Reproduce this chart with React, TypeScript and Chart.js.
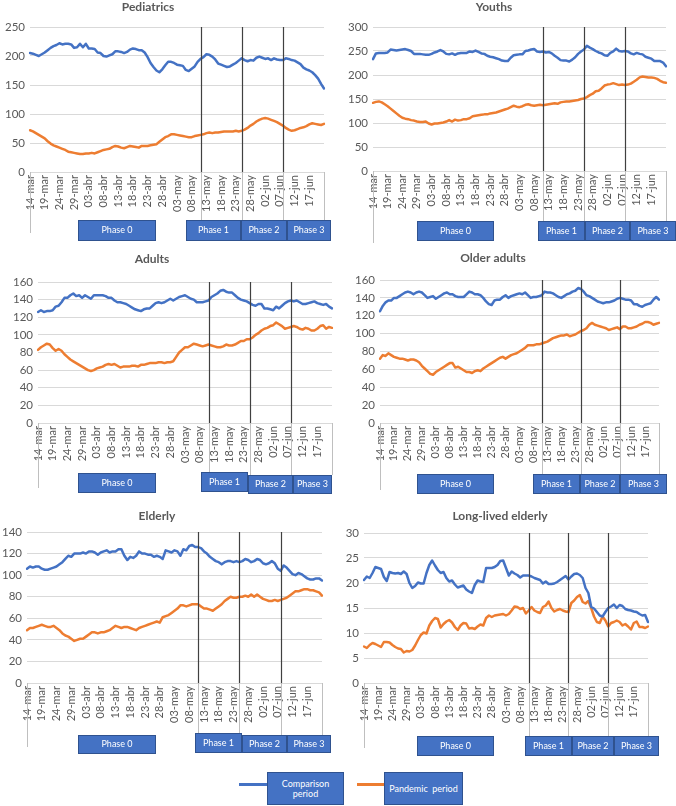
import React, { useEffect, useRef } from 'react';
import { Chart, registerables } from 'chart.js';
Chart.register(...registerables);

const FONT = 'Lato';
Chart.defaults.font.family = FONT;

// ---- categories (daily, 14-mar .. 22-jun) ----
const MONTH_SPANS: [string, number, number][] = [['mar', 14, 31], ['abr', 1, 30], ['may', 1, 31], ['jun', 1, 22]];
const DAYS: string[] = [];
for (const [m, a, b] of MONTH_SPANS) for (let d = a; d <= b; d++) DAYS.push(String(d).padStart(2, '0') + '-' + m);

const TICK_LABELS = ['14-mar', '19-mar', '24-mar', '29-mar', '03-abr', '08-abr', '13-abr', '18-abr', '23-abr', '28-abr',
  '03-may', '08-may', '13-may', '18-may', '23-may', '28-may', '02-jun', '07-jun', '12-jun', '17-jun'];
const PHASE_START = ['11-may', '25-may', '08-jun'];
const PHASE_NAMES = ['Phase 0', 'Phase 1', 'Phase 2', 'Phase 3'];
const SERIES_NAMES = ['Comparison period', 'Pandemic period'];

// ---- series ----
const PED_COMP = [205, 204, 202, 200, 203, 206, 210, 214, 217, 219,
  222, 220, 221, 221, 220, 214, 215, 221, 215, 221,
  213, 213, 212, 206, 205, 200, 199, 201, 203, 208,
  208, 207, 205, 207, 211, 213, 212, 210, 210, 206,
  198, 188, 181, 175, 172, 177, 184, 190, 190, 188,
  185, 184, 183, 176, 174, 178, 182, 190, 195, 198,
  203, 202, 199, 194, 187, 185, 183, 181, 182, 185,
  188, 192, 196, 193, 191, 193, 192, 197, 199, 197,
  195, 196, 193, 196, 194, 193, 193, 196, 195, 193,
  192, 189, 186, 180, 177, 175, 172, 167, 161, 152,
  144];
const PED_PAND = [72, 70, 67, 64, 61, 58, 53, 49, 46, 44,
  42, 40, 38, 35, 34, 33, 32, 31, 31, 32,
  32, 33, 32, 34, 36, 38, 39, 40, 43, 45,
  44, 42, 41, 43, 45, 44, 43, 42, 45, 45,
  45, 46, 47, 48, 52, 56, 60, 62, 65, 65,
  64, 63, 62, 61, 60, 60, 62, 63, 64, 65,
  67, 68, 67, 68, 68, 69, 70, 70, 70, 70,
  71, 70, 71, 73, 76, 80, 83, 87, 90, 92,
  93, 92, 90, 88, 86, 83, 80, 76, 73, 71,
  72, 74, 76, 77, 79, 82, 84, 83, 82, 81,
  83];
const YOUTH_COMP = [233, 245, 246, 246, 246, 247, 253, 252, 251, 252,
  253, 254, 252, 250, 244, 244, 244, 243, 242, 242,
  244, 247, 249, 252, 249, 244, 243, 245, 242, 245,
  246, 246, 246, 249, 248, 251, 248, 245, 244, 240,
  238, 237, 235, 233, 230, 229, 229, 236, 241, 242,
  243, 243, 250, 251, 253, 254, 249, 248, 249, 247,
  248, 245, 240, 236, 231, 230, 230, 228, 232, 237,
  244, 249, 253, 261, 257, 254, 250, 247, 245, 241,
  240, 246, 249, 255, 250, 249, 250, 249, 245, 243,
  246, 244, 243, 238, 236, 234, 229, 229, 229, 226,
  218];
const YOUTH_PAND = [142, 144, 145, 143, 139, 135, 130, 125, 120, 115,
  111, 109, 108, 106, 105, 103, 102, 102, 103, 99,
  97, 99, 99, 100, 101, 103, 106, 103, 107, 105,
  106, 108, 108, 110, 114, 115, 116, 117, 118, 118,
  120, 121, 122, 124, 126, 128, 130, 133, 136, 134,
  133, 135, 138, 139, 137, 136, 137, 138, 137, 138,
  139, 140, 141, 140, 143, 144, 145, 145, 146, 147,
  148, 150, 151, 154, 158, 161, 166, 167, 172, 178,
  180, 181, 183, 181, 179, 180, 179, 180, 182, 186,
  190, 195, 197, 196, 195, 195, 194, 192, 188, 185,
  184];
const ADULT_COMP = [126, 128, 126, 127, 127, 128, 132, 133, 137, 142,
  142, 145, 147, 144, 145, 142, 145, 143, 141, 145,
  145, 145, 145, 144, 142, 142, 139, 137, 137, 136,
  135, 133, 131, 129, 128, 127, 129, 130, 130, 133,
  136, 137, 136, 137, 139, 141, 139, 141, 143, 144,
  145, 143, 141, 140, 137, 137, 137, 138, 139, 143,
  145, 147, 150, 151, 149, 148, 148, 145, 142, 140,
  139, 138, 136, 134, 133, 135, 135, 130, 130, 129,
  128, 132, 130, 133, 136, 138, 139, 138, 139, 137,
  135, 135, 136, 137, 138, 136, 135, 134, 135, 132,
  130];
const ADULT_PAND = [83, 86, 88, 90, 89, 85, 82, 84, 82, 78,
  75, 72, 70, 68, 66, 64, 62, 60, 59, 60,
  62, 63, 64, 66, 67, 66, 67, 65, 63, 64,
  64, 64, 65, 65, 64, 66, 66, 67, 68, 68,
  68, 69, 69, 68, 69, 69, 70, 75, 80, 83,
  86, 86, 88, 90, 89, 88, 87, 88, 89, 88,
  87, 86, 86, 87, 89, 88, 88, 89, 91, 93,
  93, 95, 95, 97, 100, 102, 105, 107, 108, 110,
  111, 114, 112, 110, 107, 108, 109, 110, 109, 107,
  106, 108, 107, 105, 105, 107, 110, 111, 107, 109,
  108];
const OLDER_COMP = [125, 131, 135, 137, 137, 140, 140, 142, 144, 146,
  147, 146, 144, 146, 147, 146, 143, 140, 141, 142,
  139, 141, 143, 145, 146, 144, 144, 142, 141, 141,
  141, 144, 147, 146, 144, 144, 143, 140, 136, 133,
  132, 137, 138, 138, 141, 143, 140, 142, 143, 144,
  145, 144, 146, 143, 140, 141, 141, 142, 143, 147,
  146, 146, 145, 143, 141, 140, 142, 144, 145, 147,
  148, 151, 150, 147, 143, 142, 140, 138, 136, 135,
  134, 135, 135, 136, 137, 139, 140, 139, 138, 138,
  137, 133, 133, 131, 130, 132, 133, 134, 138, 141,
  138];
const OLDER_PAND = [72, 76, 75, 78, 76, 74, 73, 72, 72, 71,
  70, 71, 71, 70, 68, 64, 61, 58, 55, 54,
  57, 59, 61, 63, 65, 67, 67, 62, 63, 61,
  59, 57, 57, 56, 58, 59, 58, 61, 63, 65,
  67, 69, 71, 73, 74, 72, 74, 76, 77, 78,
  80, 82, 84, 87, 87, 87, 88, 88, 89, 90,
  91, 93, 95, 96, 97, 98, 98, 99, 97, 98,
  99, 101, 103, 104, 106, 110, 112, 110, 109, 108,
  107, 106, 104, 105, 106, 107, 105, 108, 108, 106,
  106, 107, 108, 110, 111, 113, 113, 112, 110, 111,
  112];
const ELDER_COMP = [106, 108, 107, 108, 108, 106, 105, 105, 106, 107,
  108, 110, 112, 115, 118, 117, 120, 120, 120, 121,
  120, 122, 122, 121, 119, 121, 122, 123, 121, 122,
  122, 124, 124, 118, 114, 117, 116, 118, 122, 120,
  120, 119, 119, 117, 118, 117, 115, 123, 122, 121,
  123, 122, 118, 124, 123, 127, 128, 126, 126, 125,
  122, 120, 117, 115, 113, 112, 110, 112, 113, 113,
  112, 113, 112, 113, 115, 114, 112, 113, 115, 114,
  111, 110, 111, 113, 111, 106, 104, 109, 107, 104,
  101, 100, 102, 101, 99, 97, 96, 96, 97, 97,
  95];
const ELDER_PAND = [49, 51, 51, 52, 53, 54, 53, 52, 52, 53,
  51, 49, 46, 44, 43, 41, 39, 40, 41, 41,
  43, 45, 47, 47, 46, 47, 47, 48, 49, 51,
  53, 52, 51, 52, 52, 51, 50, 49, 51, 52,
  53, 54, 55, 56, 57, 56, 61, 62, 63, 65,
  67, 69, 72, 72, 71, 72, 73, 73, 73, 71,
  69, 69, 68, 67, 69, 71, 73, 76, 78, 80,
  79, 79, 80, 80, 81, 80, 82, 80, 82, 80,
  78, 77, 76, 76, 77, 76, 77, 78, 79, 81,
  83, 85, 85, 86, 87, 87, 86, 86, 85, 84,
  81];
const LONG_COMP = [20.6, 21.3, 21.0, 22.0, 23.2, 23.0, 22.8, 21.2, 20.4, 22.2,
  22.0, 21.9, 22.0, 21.8, 22.3, 21.8, 20.0, 19.0, 19.4, 20.1,
  19.9, 19.9, 22.0, 23.6, 24.5, 23.5, 22.6, 22.0, 22.2, 21.0,
  20.3, 20.5, 19.7, 19.1, 19.3, 19.5, 18.7, 18.3, 18.0, 19.6,
  20.5, 20.3, 20.2, 23.0, 23.0, 23.0, 23.2, 23.6, 24.4, 24.5,
  23.0, 21.5, 22.3, 21.9, 21.6, 21.1, 21.5, 21.5, 21.5, 21.3,
  21.0, 20.8, 20.6, 19.9, 20.3, 19.8, 19.8, 19.9, 20.2, 20.6,
  21.0, 21.4, 20.7, 21.3, 21.8, 21.9, 21.6, 21.0, 19.0, 18.0,
  15.2, 14.9, 14.2, 13.5, 13.3, 14.2, 15.0, 15.3, 15.7, 15.0,
  15.6, 15.4, 14.8, 14.6, 14.5, 14.3, 14.2, 13.8, 13.5, 13.6,
  12.2];
const LONG_PAND = [7.3, 7.0, 7.6, 8.0, 7.8, 7.5, 7.2, 8.2, 8.2, 8.1,
  7.6, 7.2, 6.9, 6.8, 6.1, 6.4, 6.3, 6.6, 7.5, 8.6,
  9.6, 10.1, 9.9, 11.5, 12.4, 13.0, 12.8, 11.1, 11.8, 12.3,
  12.6, 12.1, 11.2, 10.6, 11.5, 12.0, 11.9, 10.9, 11.0, 10.8,
  11.3, 11.7, 11.5, 13.0, 13.5, 13.2, 13.5, 13.6, 13.7, 13.8,
  13.5, 13.8, 14.5, 15.3, 15.2, 14.8, 15.0, 13.9, 14.5, 15.2,
  14.5, 14.2, 14.0, 15.2, 15.5, 16.3, 15.0, 14.3, 14.6, 14.8,
  14.5, 14.3, 14.2, 16.0, 16.5, 17.2, 17.6, 16.2, 15.9, 16.4,
  15.0, 13.3, 12.2, 12.0, 13.3, 12.5, 11.3, 12.0, 12.2, 12.5,
  12.2, 11.5, 11.8, 11.3, 10.7, 12.0, 12.3, 11.2, 11.2, 11.0,
  11.3];

const BLUE = '#4472C4';
const ORANGE = '#ED7D31';
const BOX_FILL = '#4472C4';
const BOX_EDGE = '#2F528F';
const TEXT = '#595959';

type PanelDef = {
  title: string; comp: number[]; pand: number[]; max: number; step: number;
  box: [number, number, number, number]; plot: [number, number, number, number];
  titleAt: [number, number]; phases: [number, number, number, number][]; leftExt: number;
};

// layout (page pixels)
const PANELS: PanelDef[] = [
  { title: 'Pediatrics', comp: PED_COMP, pand: PED_PAND, max: 250, step: 50,
    box: [0, 0, 338, 250], plot: [30, 324, 27, 172], titleAt: [148, 7], leftExt: 233,
    phases: [[78, 156, 220, 241], [186, 241, 220, 241], [241, 287, 220, 241], [287, 331, 220, 241]] },
  { title: 'Youths', comp: YOUTH_COMP, pand: YOUTH_PAND, max: 300, step: 50,
    box: [338, 0, 338, 250], plot: [373, 666, 27, 171], titleAt: [494, 7], leftExt: 243,
    phases: [[417, 494, 221, 241], [538, 585, 221, 241], [585, 630, 221, 241], [630, 676, 221, 241]] },
  { title: 'Adults', comp: ADULT_COMP, pand: ADULT_PAND, max: 160, step: 20,
    box: [0, 250, 338, 260], plot: [38, 332, 282, 423], titleAt: [152, 259], leftExt: 488,
    phases: [[78, 156, 473, 493], [201, 248, 472, 492], [248, 293, 475, 494], [293, 332, 475, 494]] },
  { title: 'Older adults', comp: OLDER_COMP, pand: OLDER_PAND, max: 160, step: 20,
    box: [338, 250, 338, 260], plot: [380, 659, 280, 423], titleAt: [493, 258], leftExt: 490,
    phases: [[417, 494, 474, 494], [533, 580, 474, 494], [580, 620, 474, 494], [620, 667, 474, 494]] },
  { title: 'Elderly', comp: ELDER_COMP, pand: ELDER_PAND, max: 140, step: 20,
    box: [0, 510, 338, 262], plot: [27, 322, 532, 683], titleAt: [157, 516], leftExt: 747,
    phases: [[78, 156, 735, 754], [195, 242, 733, 753], [242, 287, 735, 753], [287, 331, 735, 753]] },
  { title: 'Long-lived elderly', comp: LONG_COMP, pand: LONG_PAND, max: 30, step: 5,
    box: [338, 510, 338, 262], plot: [364, 648, 533, 683], titleAt: [500, 516], leftExt: 748,
    phases: [[417, 494, 736, 756], [525, 572, 736, 756], [572, 614, 736, 756], [614, 659, 736, 756]] },
];

const X_AXIS_H = 45;

function makeOverlay(p: PanelDef) {
  return {
    id: 'phaseOverlay',
    afterDraw(chart: any) {
      const { ctx, chartArea, scales } = chart;
      const xs = scales.x;
      const [cx, cy] = p.box;
      const phaseIdx = PHASE_START.map((d) => DAYS.indexOf(d));
      const vline = (x: number, y0: number, y1: number) => {
        const xx = Math.round(x) + 0.5;
        ctx.beginPath(); ctx.moveTo(xx, y0); ctx.lineTo(xx, y1); ctx.stroke();
      };
      ctx.save();
      // category separators below the axis
      ctx.strokeStyle = '#BFBFBF';
      ctx.lineWidth = 1;
      vline(xs.getPixelForValue(0), chartArea.bottom, p.leftExt - cy);
      phaseIdx.forEach((idx, k) => vline(xs.getPixelForValue(idx), chartArea.bottom, p.phases[k + 1][2] - cy));
      vline(xs.getPixelForValue(DAYS.length - 1), chartArea.bottom, p.phases[3][2] - cy);
      // phase lines inside plot
      ctx.strokeStyle = '#404040';
      ctx.lineWidth = 1.2;
      phaseIdx.forEach((idx) => vline(xs.getPixelForValue(idx), chartArea.top, chartArea.bottom));
      // phase boxes
      p.phases.forEach(([x0, x1, y0, y1], k) => {
        ctx.fillStyle = BOX_FILL;
        ctx.fillRect(x0 - cx, y0 - cy, x1 - x0, y1 - y0);
        ctx.strokeStyle = BOX_EDGE;
        ctx.lineWidth = 1;
        ctx.strokeRect(x0 - cx + 0.5, y0 - cy + 0.5, x1 - x0 - 1, y1 - y0 - 1);
        ctx.fillStyle = '#FFFFFF';
        ctx.font = `9px ${FONT}`;
        ctx.textAlign = 'center';
        ctx.textBaseline = 'middle';
        ctx.fillText(PHASE_NAMES[k], (x0 + x1) / 2 - cx, (y0 + y1) / 2 - cy);
      });
      // title
      ctx.fillStyle = TEXT;
      ctx.font = `bold 12px ${FONT}`;
      ctx.textAlign = 'center';
      ctx.textBaseline = 'middle';
      ctx.fillText(p.title, p.titleAt[0] - cx, p.titleAt[1] - cy);
      ctx.restore();
    },
  };
}

function Panel({ p }: { p: PanelDef }) {
  const ref = useRef<HTMLCanvasElement>(null);
  const [cx, cy, cw, ch] = p.box;
  useEffect(() => {
    const [L, R, T, B] = p.plot;
    const chart = new Chart(ref.current as HTMLCanvasElement, {
      type: 'line',
      data: {
        labels: DAYS,
        datasets: [
          { label: SERIES_NAMES[0], data: p.comp, borderColor: BLUE, backgroundColor: BLUE },
          { label: SERIES_NAMES[1], data: p.pand, borderColor: ORANGE, backgroundColor: ORANGE },
        ],
      },
      options: {
        responsive: false,
        animation: false,
        devicePixelRatio: 1,
        layout: { padding: { left: 0, top: T - cy, right: cx + cw - R, bottom: cy + ch - B - X_AXIS_H } },
        plugins: { legend: { display: false }, tooltip: { enabled: false }, title: { display: false } },
        elements: {
          point: { radius: 0, hoverRadius: 0 },
          line: { borderWidth: 2.5, tension: 0, borderJoinStyle: 'round', borderCapStyle: 'round' },
        },
        scales: {
          x: {
            type: 'category',
            offset: false,
            grid: { display: false, drawTicks: false },
            border: { display: false },
            ticks: {
              autoSkip: false, maxRotation: 90, minRotation: 90, padding: 3, color: TEXT,
              font: { family: FONT, size: 11 },
              callback: (_v: any, i: number) => (TICK_LABELS.includes(DAYS[i]) ? DAYS[i] : null),
            },
            afterFit: (s: any) => { s.height = X_AXIS_H; },
          },
          y: {
            min: 0, max: p.max,
            grid: { color: '#D9D9D9', drawTicks: false },
            border: { display: false },
            ticks: { stepSize: p.step, padding: 5, color: TEXT, font: { family: FONT, size: 11.5 } },
            afterFit: (s: any) => { s.width = L - cx; },
          },
        },
      } as any,
      plugins: [makeOverlay(p)],
    });
    return () => chart.destroy();
  }, []);
  return (
    <canvas ref={ref} width={cw} height={ch}
      style={{ position: 'absolute', left: cx, top: cy, width: cw, height: ch }} />
  );
}

const legendBox: React.CSSProperties = {
  position: 'absolute', background: BOX_FILL, border: `1px solid ${BOX_EDGE}`, boxSizing: 'border-box',
  color: '#fff', fontFamily: FONT, fontSize: 9, lineHeight: '10px', display: 'flex',
  alignItems: 'center', justifyContent: 'center', textAlign: 'center',
};

export default function App() {
  return (
    <div style={{ position: 'absolute', left: 0, top: 0, width: 676, height: 806, background: '#fff', overflow: 'hidden' }}>
      {PANELS.map((p) => <Panel key={p.title} p={p} />)}
      <div style={{ position: 'absolute', left: 239, top: 783, width: 28, height: 3, background: BLUE }} />
      <div style={{ ...legendBox, left: 267, top: 772, width: 77, height: 33 }}>Comparison<br />period</div>
      <div style={{ position: 'absolute', left: 357, top: 783, width: 27, height: 3, background: ORANGE }} />
      <div style={{ ...legendBox, left: 384, top: 772, width: 79, height: 33 }}>Pandemic&nbsp;&nbsp;period</div>
    </div>
  );
}
